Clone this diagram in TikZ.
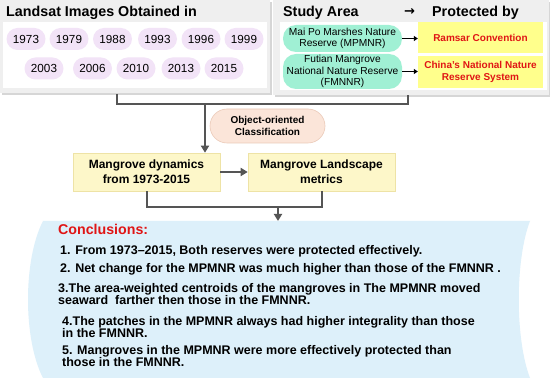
\documentclass[tikz,border=0pt]{standalone}
\usepackage{fontspec}
\setmainfont{Liberation Sans}
\newfontfamily\arrowfont{DejaVu Sans}
\usetikzlibrary{arrows.meta,calc}
\definecolor{panelgray}{HTML}{EFEFEF}
\definecolor{shadowgray}{HTML}{D6D6D6}
\definecolor{lavender}{HTML}{F2E3F7}
\definecolor{mint}{HTML}{A0F0D4}
\definecolor{brightyellow}{HTML}{FFFF8C}
\definecolor{redtext}{HTML}{E01515}
\definecolor{cream}{HTML}{FDF7C9}
\definecolor{creamedge}{HTML}{EEE3A6}
\definecolor{peach}{HTML}{FBE5D9}
\definecolor{peachedge}{HTML}{EBCAB8}
\definecolor{paleblue}{HTML}{DDF0FA}
\definecolor{conngray}{HTML}{555555}
\tikzset{
  panel/.style={fill=panelgray, draw=none, inner sep=0pt, anchor=north west},
  heading/.style={font=\fontsize{14.3}{16}\selectfont\bfseries, inner sep=0pt, anchor=base west},
  year/.style={fill=lavender, rounded corners=11pt, minimum width=39pt, minimum height=22pt, inner sep=0pt, font=\fontsize{11.7}{13}\selectfont},
  reserve/.style={fill=mint, rounded corners=13pt, minimum width=119pt, inner sep=0pt, align=center, font=\fontsize{10.2}{11.5}\selectfont},
  protect/.style={fill=brightyellow, minimum width=125pt, inner sep=0pt, align=center, text=redtext, font=\fontsize{10}{12}\selectfont\bfseries},
  smallarrow/.style={draw=black, line width=1.3pt, -{Triangle[width=5pt,length=4pt]}},
  process/.style={fill=cream, draw=creamedge, line width=0.6pt, minimum width=147pt, minimum height=38pt, inner sep=0pt, align=center, font=\fontsize{12}{15}\selectfont\bfseries},
  method/.style={fill=peach, draw=peachedge, line width=0.6pt, rounded corners=17pt, minimum width=115pt, minimum height=34pt, inner sep=0pt, align=center, font=\fontsize{10}{12}\selectfont\bfseries},
  conn/.style={draw=conngray, line width=2pt},
  connarrow/.style={conn, -{Triangle[width=8pt,length=7pt]}},
  concltext/.style={font=\fontsize{12.5}{12.5}\selectfont\bfseries, inner sep=0pt, anchor=base west},
}
\begin{document}
\begin{tikzpicture}[x=1pt,y=-1pt]
\useasboundingbox (0,0) rectangle (550,382);
\fill[white] (0,0) rectangle (550,382);

% ---------- left panel ----------
\fill[shadowgray] (2,2) rectangle (272,95);
\node[panel, minimum width=270pt, minimum height=93pt] (lpanel) at (0,0) {};
\fill[white] (3,22) rectangle (267,88);
\node[heading] (ltitle) at (6,17) {Landsat Images Obtained in};

\node[year] (y1973) at (26,39) {1973};
\node[year] (y1979) at (69,39) {1979};
\node[year] (y1988) at (112.5,39) {1988};
\node[year] (y1993) at (157.5,39) {1993};
\node[year] (y1996) at (201,39) {1996};
\node[year] (y1999) at (244,39) {1999};
\node[year] (y2003) at (44,68.5) {2003};
\node[year] (y2006) at (92.5,68.5) {2006};
\node[year] (y2010) at (136,68.5) {2010};
\node[year] (y2013) at (181,68.5) {2013};
\node[year] (y2015) at (224,68.5) {2015};

% ---------- right panel ----------
\fill[shadowgray] (275,2) rectangle (550,97);
\node[panel, minimum width=276pt, minimum height=95pt] (rpanel) at (273,0) {};
\fill[white] (280,22) rectangle (547,90);
\node[heading] (rtitle) at (283,17) {Study Area};
\node[heading, font=\fontsize{13}{16}\selectfont\arrowfont\bfseries] (rarrow) at (404,16) {→};
\node[heading] (ptitle) at (432,17) {Protected by};

\node[reserve, minimum height=27pt] (mp) at (342.5,38.5) {Mai Po Marshes Nature\\Reserve (MPMNR)};
\node[reserve, minimum height=35pt] (fm) at (342.5,71.5) {Futian Mangrove\\National Nature Reserve\\(FMNNR)};
\node[protect, minimum height=31pt] (ramsar) at (480.5,37.5) {Ramsar Convention};
\node[protect, minimum height=32pt] (china) at (480.5,72) {China's National Nature\\Reserve System};
\draw[smallarrow] (mp.east) -- (mp.east -| ramsar.west);
\draw[smallarrow] (fm.east) -- (fm.east -| china.west);

% ---------- middle ----------
\coordinate (lb) at (117,94);
\coordinate (rb) at (408,95);
\coordinate (jt) at (205,104);
\draw[conn] (lb) |- (jt) -| (rb);

\node[method] (ooc) at (267.5,126) {Object-oriented\\Classification};
\node[process] (dyn) at (146.5,172) {Mangrove dynamics\\from 1973-2015};
\node[process] (land) at (321.5,172) {Mangrove Landscape\\metrics};
\draw[connarrow] (jt) -- (jt |- dyn.north);
\draw[connarrow] (dyn.east) -- (land.west);

\coordinate (jb) at (278,207);
\coordinate (ctop) at (278,221);
\draw[conn] (dyn.south) |- (jb) -| (land.south);
\draw[connarrow] (jb) -- (ctop);

% ---------- conclusions ----------
\fill[paleblue] (43,221) -- (530,221) .. controls (515,260) and (515,339) .. (530,378)
  -- (43,378) .. controls (23,339) and (23,260) .. (43,221) -- cycle;
\node[concltext, text=redtext, font=\fontsize{14.2}{16}\selectfont\bfseries] (ctitle) at (58,235) {Conclusions:};
\node[concltext] (c1) at (60,255) {1. From 1973–2015, Both reserves were protected effectively.};
\node[concltext] (c2) at (60,273) {2. Net change for the MPMNR was much higher than those of the FMNNR .};
\node[concltext] (c3a) at (58,292.5) {3.The area-weighted centroids of the mangroves in The MPMNR moved};
\node[concltext] (c3b) at (58,305) {seaward~ farther then those in the FMNNR.};
\node[concltext] (c4a) at (62,326) {4.The patches in the MPMNR always had higher integrality than those};
\node[concltext] (c4b) at (62,338) {in the FMNNR.};
\node[concltext] (c5a) at (62,355) {5. Mangroves in the MPMNR were more effectively protected than};
\node[concltext] (c5b) at (62,367) {those in the FMNNR.};
\end{tikzpicture}
\end{document}
